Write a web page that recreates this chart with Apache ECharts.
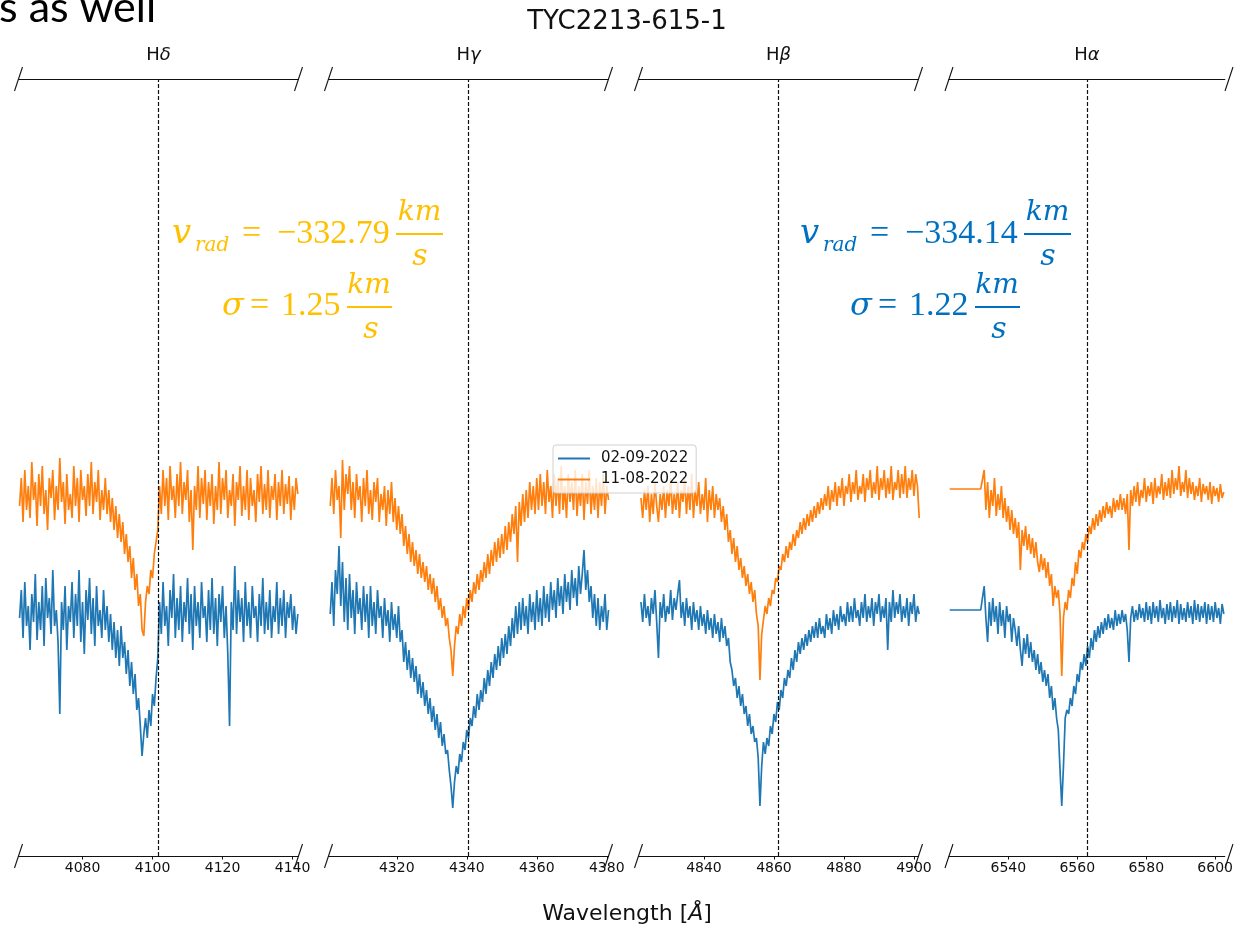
<!DOCTYPE html>
<html>
<head>
<meta charset="utf-8">
<title>TYC2213-615-1 Balmer lines</title>
<style>
  html, body { margin: 0; padding: 0; background: #ffffff; }
  #chart { width: 1236px; height: 930px; }
</style>
<script src="https://cdn.jsdelivr.net/npm/echarts@6.0.0/dist/echarts.min.js"></script>
</head>
<body>
<div id="chart"></div>
<script>
// ---- Data -----------------------------------------------------------------
// Rest wavelengths of the Balmer lines (Angstrom); each panel spans +-40 A.
const LINE_CENTERS = [4101.7, 4340.5, 4861.3, 6562.8];
const LINE_GREEK = ['δ', 'γ', 'β', 'α'];
const HALF_SPAN = 40;
const TICK_VALUES = [
  [4080, 4100, 4120, 4140],
  [4320, 4340, 4360, 4380],
  [4840, 4860, 4880, 4900],
  [6540, 6560, 6580, 6600]
];
// First wavelength of each extracted segment; sampling is 0.5 A.
const WL_START = [4062, 4301, 4822, 6523];
const WL_STEP = 0.5;

const DATE_A = '02-09-2022';
const DATE_B = '11-08-2022';

// Normalised flux, epoch 02-09-2022
const fluxHdeltaA = [
  0.96,1.10,0.86,1.14,0.92,1.02,0.80,1.08,0.94,1.18,
  0.85,1.04,0.90,1.12,0.82,1.16,0.96,1.06,0.88,1.20,
  0.92,1.00,0.84,0.48,1.04,0.90,1.12,0.80,1.02,0.94,
  1.14,0.86,1.08,0.92,1.20,0.84,1.04,0.78,1.10,0.95,
  1.16,0.88,1.06,0.82,1.12,0.92,1.00,0.86,1.10,0.90,
  1.02,0.84,0.98,0.80,0.94,0.76,0.90,0.72,0.92,0.76,
  0.84,0.68,0.80,0.62,0.74,0.58,0.68,0.50,0.56,0.42,
  0.27,0.38,0.46,0.36,0.50,0.42,0.58,0.52,0.66,0.76,
  1.04,0.88,1.14,0.92,1.02,0.82,1.10,0.96,1.18,0.86,
  1.06,0.90,1.12,0.84,1.04,0.94,1.16,0.88,1.08,0.80,
  1.12,0.92,1.04,0.86,1.14,0.96,1.02,0.84,1.10,0.90,
  1.16,0.88,1.06,0.82,1.08,0.94,1.12,0.86,1.02,0.78,
  0.42,1.04,0.90,1.22,0.88,1.10,0.94,1.06,0.84,1.14,
  0.92,1.04,0.86,1.12,0.96,1.02,0.84,1.08,0.92,1.16,
  0.88,1.04,0.90,1.10,0.86,1.02,0.94,1.14,0.88,1.06,
  0.92,1.10,0.86,1.04,0.96,1.08,0.90,1.02,0.88,0.98];
const fluxHgammaA = [
  0.98,1.14,0.92,1.20,1.08,1.32,1.02,1.24,0.94,1.16,
  0.90,1.18,0.96,1.10,0.88,1.14,0.98,1.06,0.90,1.12,
  0.94,1.08,0.86,1.12,0.92,1.04,0.88,1.10,0.96,1.02,
  0.86,1.06,0.92,1.00,0.84,1.04,0.90,0.98,0.86,1.02,
  0.84,0.90,0.74,0.84,0.70,0.80,0.66,0.76,0.64,0.72,
  0.58,0.68,0.56,0.64,0.52,0.60,0.48,0.56,0.44,0.52,
  0.40,0.48,0.36,0.44,0.32,0.38,0.28,0.30,0.20,0.12,
  0.01,0.14,0.22,0.18,0.28,0.24,0.34,0.30,0.40,0.36,
  0.46,0.42,0.52,0.46,0.58,0.50,0.60,0.54,0.66,0.58,
  0.70,0.62,0.74,0.66,0.78,0.70,0.82,0.72,0.86,0.76,
  0.88,0.78,0.92,0.82,0.96,0.86,1.02,0.88,1.04,0.90,
  1.06,0.92,1.02,0.88,1.08,0.94,1.04,0.90,1.10,0.94,
  1.06,0.92,1.12,0.96,1.08,0.94,1.14,1.00,1.10,0.96,
  1.16,1.02,1.12,0.98,1.18,1.04,1.14,1.00,1.20,1.06,
  1.16,1.02,1.22,1.08,1.18,1.30,1.10,1.20,1.04,1.12,
  0.96,1.08,0.92,1.06,0.90,1.02,0.94,1.08,0.90,1.00];
const fluxHbetaA = [
  1.04,0.94,1.08,0.96,1.02,0.92,1.06,0.98,1.10,0.94,
  0.76,1.04,0.96,1.08,0.94,1.02,0.98,1.10,0.95,1.06,
  1.00,1.08,1.15,0.96,1.04,0.92,1.06,0.96,1.02,0.90,
  1.04,0.94,1.00,0.90,1.02,0.92,0.98,0.88,1.00,0.90,
  0.96,0.86,0.98,0.88,0.94,0.84,0.96,0.86,0.92,0.82,
  0.86,0.74,0.70,0.62,0.66,0.56,0.62,0.52,0.58,0.48,
  0.52,0.42,0.48,0.38,0.42,0.34,0.36,0.26,0.02,0.22,
  0.34,0.28,0.36,0.32,0.42,0.38,0.48,0.44,0.54,0.50,
  0.60,0.56,0.66,0.62,0.70,0.66,0.76,0.70,0.80,0.74,
  0.84,0.78,0.86,0.80,0.88,0.82,0.90,0.84,0.92,0.86,
  0.94,0.86,0.96,0.88,0.92,0.86,0.98,0.90,0.96,0.88,
  1.00,0.92,0.98,0.90,1.02,0.94,0.98,0.92,1.04,0.94,
  1.02,0.94,1.06,0.96,1.00,0.92,1.04,0.96,1.08,0.94,
  1.02,0.96,1.06,0.92,1.04,0.98,1.08,0.94,1.02,0.96,
  1.06,0.80,1.04,0.94,1.10,0.96,1.04,0.98,1.08,0.94,
  1.02,0.96,1.06,0.92,1.04,0.98,1.08,0.94,1.02,0.98];
const fluxHalphaA = [
  1.00,1.00,1.00,1.00,1.00,1.00,1.00,1.00,1.00,1.00,
  1.00,1.00,1.00,1.00,1.00,1.00,1.00,1.00,1.00,1.00,
  1.12,0.96,0.84,1.04,0.92,1.06,0.94,1.02,0.88,1.04,
  0.92,1.00,0.86,1.02,0.94,0.98,0.84,0.96,0.90,0.82,
  0.92,0.80,0.72,0.86,0.78,0.88,0.76,0.84,0.74,0.80,
  0.70,0.78,0.68,0.74,0.64,0.70,0.62,0.68,0.56,0.62,
  0.50,0.56,0.46,0.40,0.20,0.02,0.22,0.46,0.50,0.48,
  0.56,0.52,0.62,0.58,0.68,0.64,0.74,0.70,0.78,0.72,
  0.82,0.76,0.86,0.80,0.90,0.84,0.92,0.86,0.94,0.88,
  0.96,0.90,0.98,0.91,0.96,0.90,1.00,0.92,0.98,0.93,
  1.00,0.94,0.98,0.90,0.74,0.96,1.02,0.94,1.00,0.95,
  1.03,0.96,1.01,0.94,1.04,0.95,1.02,0.93,1.04,0.96,
  1.02,0.94,1.05,0.96,1.01,0.93,1.03,0.95,1.04,0.94,
  1.02,0.96,1.05,0.93,1.03,0.95,1.01,0.94,1.04,0.96,
  1.02,0.93,1.05,0.95,1.03,0.94,1.02,0.96,1.04,0.93,
  1.03,0.95,1.02,0.94,1.04,0.96,1.01,0.93,1.03,0.98];

// Normalised flux + 0.6 offset, epoch 11-08-2022
const fluxHdeltaB = [
  1.52,1.66,1.44,1.70,1.50,1.62,1.46,1.74,1.55,1.64,
  1.42,1.68,1.52,1.72,1.48,1.60,1.40,1.66,1.56,1.70,
  1.45,1.62,1.50,1.76,1.54,1.64,1.43,1.68,1.50,1.58,
  1.46,1.72,1.52,1.66,1.44,1.70,1.55,1.62,1.47,1.68,
  1.52,1.74,1.48,1.64,1.54,1.70,1.45,1.60,1.50,1.66,
  1.48,1.60,1.44,1.56,1.40,1.52,1.36,1.48,1.34,1.44,
  1.28,1.38,1.24,1.32,1.16,1.26,1.10,1.18,1.02,1.08,
  0.90,0.87,1.04,1.12,1.08,1.20,1.16,1.28,1.34,1.40,
  1.62,1.48,1.70,1.52,1.66,1.45,1.72,1.55,1.62,1.46,
  1.68,1.52,1.74,1.48,1.64,1.55,1.70,1.44,1.60,1.30,
  1.62,1.50,1.72,1.46,1.66,1.53,1.70,1.45,1.64,1.52,
  1.68,1.43,1.62,1.50,1.74,1.48,1.66,1.55,1.70,1.46,
  1.60,1.52,1.68,1.42,1.64,1.55,1.72,1.47,1.62,1.50,
  1.70,1.45,1.66,1.52,1.60,1.44,1.68,1.54,1.72,1.48,
  1.63,1.50,1.70,1.46,1.62,1.55,1.68,1.45,1.64,1.52,
  1.70,1.48,1.63,1.53,1.67,1.45,1.62,1.50,1.66,1.58];
const fluxHgammaB = [
  1.52,1.66,1.48,1.70,1.55,1.62,1.36,1.75,1.50,1.68,
  1.58,1.72,1.50,1.64,1.46,1.68,1.55,1.62,1.44,1.66,
  1.52,1.70,1.48,1.60,1.45,1.64,1.54,1.66,1.44,1.58,
  1.50,1.62,1.42,1.60,1.48,1.64,1.44,1.56,1.40,1.52,
  1.38,1.48,1.32,1.42,1.28,1.38,1.24,1.34,1.22,1.30,
  1.18,1.28,1.16,1.24,1.14,1.22,1.10,1.18,1.08,1.16,
  1.04,1.12,1.00,1.06,0.96,1.02,0.92,0.96,0.86,0.80,
  0.67,0.82,0.92,0.88,0.98,0.92,1.02,0.96,1.06,1.00,
  1.10,1.04,1.14,1.08,1.18,1.10,1.20,1.14,1.24,1.16,
  1.28,1.18,1.30,1.22,1.34,1.24,1.36,1.26,1.38,1.28,
  1.42,1.30,1.44,1.34,1.48,1.38,1.52,1.24,1.54,1.42,
  1.58,1.44,1.60,1.46,1.64,1.50,1.62,1.48,1.66,1.50,
  1.68,1.52,1.64,1.48,1.70,1.54,1.62,1.46,1.68,1.52,
  1.66,1.48,1.72,1.50,1.62,1.46,1.68,1.54,1.64,1.50,
  1.70,1.47,1.62,1.52,1.68,1.45,1.64,1.53,1.70,1.48,
  1.62,1.50,1.66,1.46,1.64,1.52,1.68,1.48,1.62,1.55];
const fluxHbetaB = [
  1.56,1.46,1.60,1.50,1.62,1.44,1.58,1.48,1.64,1.52,
  1.44,1.58,1.50,1.62,1.46,1.60,1.52,1.66,1.48,1.58,
  1.50,1.64,1.46,1.60,1.54,1.66,1.48,1.62,1.50,1.68,
  1.46,1.60,1.52,1.64,1.48,1.58,1.50,1.66,1.44,1.60,
  1.50,1.62,1.46,1.58,1.50,1.56,1.44,1.52,1.40,1.48,
  1.34,1.40,1.28,1.36,1.24,1.32,1.20,1.26,1.16,1.22,
  1.12,1.18,1.08,1.14,1.04,1.10,0.98,0.92,0.65,0.88,
  0.95,1.02,0.98,1.06,1.02,1.10,1.08,1.16,1.14,1.22,
  1.20,1.28,1.24,1.32,1.26,1.34,1.30,1.38,1.32,1.40,
  1.36,1.44,1.38,1.46,1.40,1.48,1.42,1.50,1.44,1.52,
  1.46,1.54,1.48,1.56,1.50,1.58,1.52,1.62,1.50,1.60,
  1.54,1.64,1.52,1.62,1.56,1.66,1.52,1.62,1.58,1.68,
  1.54,1.64,1.58,1.70,1.55,1.62,1.58,1.68,1.54,1.66,
  1.60,1.70,1.56,1.64,1.58,1.72,1.55,1.66,1.60,1.70,
  1.56,1.66,1.58,1.72,1.55,1.64,1.60,1.70,1.56,1.68,
  1.58,1.72,1.56,1.66,1.60,1.70,1.57,1.68,1.62,1.46];
const fluxHalphaB = [
  1.605,1.605,1.605,1.605,1.605,1.605,1.605,1.605,1.605,1.605,
  1.605,1.605,1.605,1.605,1.605,1.605,1.605,1.605,1.605,1.605,
  1.70,1.50,1.64,1.46,1.60,1.52,1.66,1.47,1.58,1.50,
  1.62,1.46,1.56,1.44,1.52,1.40,1.50,1.38,1.46,1.36,
  1.44,1.20,1.40,1.32,1.42,1.30,1.38,1.28,1.36,1.26,
  1.34,1.24,1.19,1.28,1.20,1.26,1.16,1.24,1.12,1.18,
  1.02,1.12,1.06,1.10,0.98,0.67,0.96,1.04,1.00,1.10,
  1.06,1.16,1.12,1.24,1.18,1.30,1.26,1.34,1.30,1.38,
  1.34,1.42,1.38,1.46,1.40,1.48,1.42,1.50,1.44,1.52,
  1.46,1.54,1.48,1.52,1.46,1.56,1.49,1.55,1.50,1.58,
  1.50,1.56,1.48,1.58,1.30,1.60,1.52,1.62,1.54,1.64,
  1.52,1.60,1.56,1.66,1.54,1.62,1.57,1.64,1.53,1.66,
  1.56,1.62,1.58,1.68,1.55,1.64,1.57,1.66,1.56,1.70,
  1.58,1.66,1.60,1.72,1.57,1.64,1.59,1.70,1.56,1.66,
  1.58,1.64,1.55,1.62,1.57,1.66,1.54,1.63,1.58,1.62,
  1.55,1.64,1.53,1.62,1.57,1.61,1.54,1.63,1.56,1.59];

const FLUX_A = [fluxHdeltaA, fluxHgammaA, fluxHbetaA, fluxHalphaA];
const FLUX_B = [fluxHdeltaB, fluxHgammaB, fluxHbetaB, fluxHalphaB];

// Radial-velocity fit results (km/s), one block per epoch
const VRAD_TEXT = ['−332.79', '−334.14'];
const SIGMA_TEXT = ['1.25', '1.22'];

// ---- Layout ---------------------------------------------------------------
const PANEL_LEFT = [18.5, 328.5, 638.5, 949];
const PANEL_W = 280;
const AXIS_TOP = 79;
const AXIS_BOTTOM = 856;
const Y_MIN = -0.23;
const Y_MAX = 3.655;

const COLOR_A = '#1f77b4';
const COLOR_B = '#ff7f0e';
const TEXT_FONT = 'DejaVu Sans';
const SPEC_WIDTH = 1.7;

function toPoints(start, flux) {
  return flux.map((f, i) => [start + i * WL_STEP, f]);
}

const grids = PANEL_LEFT.map(l => ({
  left: l, width: PANEL_W, top: AXIS_TOP, height: AXIS_BOTTOM - AXIS_TOP
}));

const xBottom = LINE_CENTERS.map((c, k) => ({
  type: 'value', gridIndex: k, position: 'bottom',
  min: c - HALF_SPAN, max: c + HALF_SPAN,
  axisLine: { onZero: false, lineStyle: { color: '#111', width: 1 } },
  axisTick: { customValues: TICK_VALUES[k], length: 3.5, lineStyle: { color: '#111' } },
  axisLabel: { customValues: TICK_VALUES[k], color: '#111', fontSize: 14,
    fontFamily: TEXT_FONT, margin: 5, formatter: v => String(v) },
  splitLine: { show: false }
}));

const xTop = LINE_CENTERS.map((c, k) => ({
  type: 'value', gridIndex: k, position: 'top',
  min: c - HALF_SPAN, max: c + HALF_SPAN,
  axisLine: { onZero: false, lineStyle: { color: '#111', width: 1 } },
  axisTick: { show: false }, axisLabel: { show: false }, splitLine: { show: false },
  name: '{h|H}{g|' + LINE_GREEK[k] + '}',
  nameLocation: 'middle', nameGap: 15,
  nameTextStyle: {
    rich: {
      h: { fontSize: 18, fontFamily: TEXT_FONT, color: '#111' },
      g: { fontSize: 18, fontFamily: TEXT_FONT, fontStyle: 'italic', color: '#111' }
    }
  }
}));

const yAxes = LINE_CENTERS.map((c, k) => ({
  type: 'value', gridIndex: k, min: Y_MIN, max: Y_MAX, show: false
}));

const series = [];
LINE_CENTERS.forEach((c, k) => {
  series.push({
    type: 'line', name: DATE_A, xAxisIndex: k, yAxisIndex: k,
    data: toPoints(WL_START[k], FLUX_A[k]),
    symbol: 'none', color: COLOR_A,
    lineStyle: { width: SPEC_WIDTH, color: COLOR_A }, z: 2
  });
  series.push({
    type: 'line', name: DATE_B, xAxisIndex: k, yAxisIndex: k,
    data: toPoints(WL_START[k], FLUX_B[k]),
    symbol: 'none', color: COLOR_B,
    lineStyle: { width: SPEC_WIDTH, color: COLOR_B }, z: 3,
    markLine: {
      silent: true, symbol: 'none', animation: false,
      label: { show: false },
      lineStyle: { type: [4, 2], color: '#111', width: 1.2 },
      data: [{ xAxis: c }]
    }
  });
});

// Break marks at both ends of every top and bottom spine
const breakMarks = [];
PANEL_LEFT.forEach(l => {
  [l, l + PANEL_W].forEach(x => {
    [AXIS_TOP, AXIS_BOTTOM].forEach(y => {
      breakMarks.push({
        type: 'line', silent: true, z: 10,
        shape: { x1: x - 4, y1: y + 12, x2: x + 4, y2: y - 12 },
        style: { stroke: '#111', lineWidth: 1.1 }
      });
    });
  });
});

// Typeset "v_rad = ... km/s" and "sigma = ... km/s" blocks
const MATH_UPRIGHT = 'Liberation Serif';
const MATH_ITALIC = 'DejaVu Serif';
function mathText(x, baseline, text, size, italic, color, align) {
  return {
    type: 'text', silent: true, z: 20, x: x, y: baseline - 0.34 * size,
    style: {
      text: text, fill: color, fontSize: size,
      fontFamily: italic ? MATH_ITALIC : MATH_UPRIGHT,
      fontStyle: italic ? 'italic' : 'normal',
      textAlign: align || 'left', align: align || 'left',
      textVerticalAlign: 'middle', verticalAlign: 'middle'
    }
  };
}
function fractionBar(x1, x2, y, color) {
  return { type: 'line', silent: true, z: 20,
    shape: { x1: x1, y1: y, x2: x2, y2: y }, style: { stroke: color, lineWidth: 2 } };
}
function velocityBlock(ox, color, vrad, sigma) {
  return [
    mathText(ox + 172, 246, 'v', 34, true, color),
    mathText(ox + 195, 253, 'rad', 20, true, color),
    mathText(ox + 242, 246, '=', 34, false, color),
    mathText(ox + 277, 246, vrad, 34, false, color),
    mathText(ox + 419.5, 222, 'km', 28, true, color, 'center'),
    fractionBar(ox + 396, ox + 443, 234, color),
    mathText(ox + 420, 267, 's', 30, true, color, 'center'),
    mathText(ox + 222, 318, 'σ', 32, true, color),
    mathText(ox + 250, 318, '=', 34, false, color),
    mathText(ox + 281, 318, sigma, 34, false, color),
    mathText(ox + 369, 295, 'km', 28, true, color, 'center'),
    fractionBar(ox + 347, ox + 392, 307, color),
    mathText(ox + 371, 340, 's', 30, true, color, 'center')
  ];
}

const graphics = [].concat(
  breakMarks,
  velocityBlock(0, '#FFC000', VRAD_TEXT[0], SIGMA_TEXT[0]),
  velocityBlock(628, '#0070C0', VRAD_TEXT[1], SIGMA_TEXT[1]),
  [
    { type: 'text', silent: true, x: 627, y: 22,
      style: { text: 'TYC2213-615-1', fontSize: 26, fontFamily: TEXT_FONT, fill: '#111',
        textAlign: 'center', align: 'center', textVerticalAlign: 'middle', verticalAlign: 'middle' } },
    { type: 'text', silent: true, x: 627, y: 914,
      style: {
        text: '{n|Wavelength [}{i|Å}{n|]}',
        rich: {
          n: { fontSize: 22, fontFamily: TEXT_FONT, fill: '#111', color: '#111' },
          i: { fontSize: 22, fontFamily: TEXT_FONT, fontStyle: 'italic', fill: '#111', color: '#111' }
        },
        textAlign: 'center', align: 'center', textVerticalAlign: 'middle', verticalAlign: 'middle' } },
    { type: 'text', silent: true, x: -1, y: 18 - 0.72 * 43,
      style: { text: 's as well', fontSize: 43, fontFamily: 'Lato', fill: '#000',
        textAlign: 'left', align: 'left', textVerticalAlign: 'top', verticalAlign: 'top' } }
  ]
);

const chart = echarts.init(document.getElementById('chart'), null, { renderer: 'canvas' });
chart.setOption({
  animation: false,
  backgroundColor: '#ffffff',
  grid: grids,
  xAxis: xBottom.concat(xTop),
  yAxis: yAxes,
  legend: {
    data: [DATE_A, DATE_B],
    orient: 'vertical', left: 553, top: 445,
    padding: [6, 8, 6, 5], itemGap: 6,
    itemWidth: 32, itemHeight: 2, icon: 'rect',
    backgroundColor: 'rgba(255,255,255,0.8)',
    borderColor: '#d0d0d0', borderWidth: 1, borderRadius: 3,
    selectedMode: false,
    textStyle: { fontSize: 15, fontFamily: TEXT_FONT, color: '#111', padding: [0, 0, 0, 6] },
    z: 10
  },
  series: series,
  graphic: graphics
});
</script>
</body>
</html>
